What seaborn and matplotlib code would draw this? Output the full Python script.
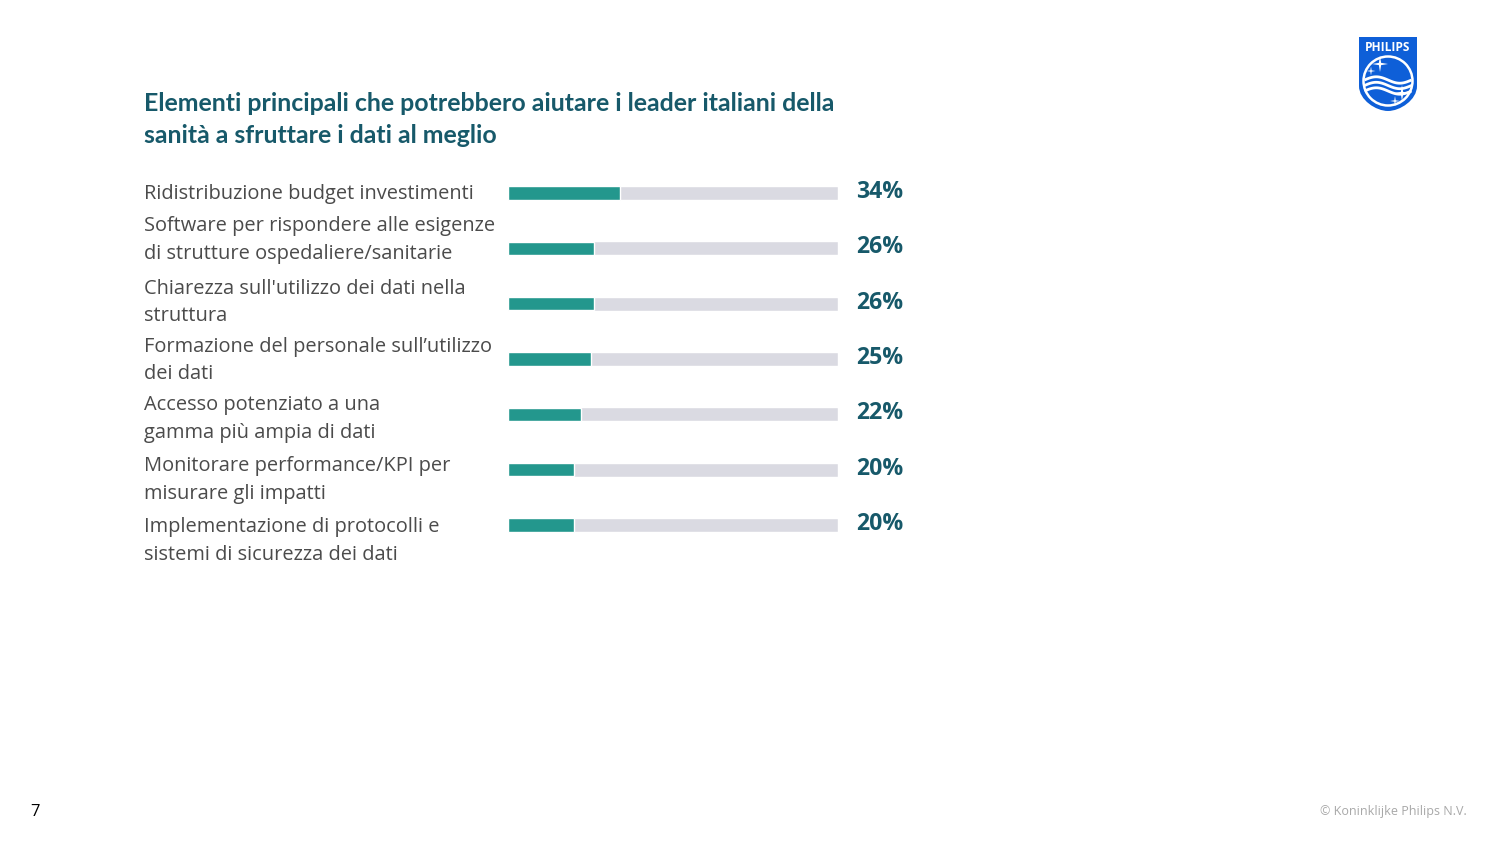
import matplotlib
matplotlib.use("Agg")
import matplotlib.pyplot as plt
import seaborn as sns
import pandas as pd
import numpy as np
from matplotlib.path import Path
from matplotlib.patches import PathPatch, Circle, Polygon

categories = [
    "Ridistribuzione budget investimenti",
    "Software per rispondere alle esigenze\ndi strutture ospedaliere/sanitarie",
    "Chiarezza sull'utilizzo dei dati nella\nstruttura",
    "Formazione del personale sull\u2019utilizzo\ndei dati",
    "Accesso potenziato a una\ngamma pi\u00f9 ampia di dati",
    "Monitorare performance/KPI per\nmisurare gli impatti",
    "Implementazione di protocolli e\nsistemi di sicurezza dei dati",
]
values = [34, 26, 26, 25, 22, 20, 20]
track = [100] * len(values)
value_labels = ["34%", "26%", "26%", "25%", "22%", "20%", "20%"]
title = "Elementi principali che potrebbero aiutare i leader italiani della\nsanit\u00e0 a sfruttare i dati al meglio"

TEAL = "#23978D"
TRACK = "#DADAE2"
DARK = "#17596A"
GRAY_TXT = "#4B4B4B"

sns.set_theme(style="white")
plt.rcParams["font.family"] = ["Open Sans", "DejaVu Sans"]

W, H = 1500, 844
fig = plt.figure(figsize=(15, 8.44), dpi=100)
fig.patch.set_facecolor("white")

def fx(px):
    return px / W

def fy(py):
    return 1 - py / H

# bar axes: x 508..838 px, bar centers 193..525 px
n = len(values)
step = (525 - 193) / (n - 1)
top = 193 - step / 2
bottom = 525 + step / 2
ax = fig.add_axes([fx(508), fy(bottom), fx(838) - fx(508), (bottom - top) / H])

df = pd.DataFrame({"cat": categories, "val": values, "track": track})
sns.barplot(data=df, y="cat", x="track", color=TRACK, orient="h", width=0.255,
            saturation=1, ax=ax)
sns.barplot(data=df, y="cat", x="val", color=TEAL, orient="h", width=0.235,
            saturation=1, ax=ax)
ax.set_xlim(0, 100)
ax.set_ylim(n - 0.5, -0.5)
ax.axis("off")

# value labels
for i, lab in enumerate(value_labels):
    ax.text(105.4, i - 0.02, lab, ha="left", va="center", fontsize=16.6,
            fontweight="bold", color=DARK, clip_on=False)

# category labels (first-line baselines in px)
first_baselines = [199.5, 231.5, 293.5, 351.5, 410, 471, 532]
line_gap = 27.8
for lab, b in zip(categories, first_baselines):
    for k, line in enumerate(lab.split("\n")):
        fig.text(fx(144), fy(b + k * line_gap), line, ha="left", va="baseline",
                 fontsize=14.4, color=GRAY_TXT)

# title
for k, line in enumerate(title.split("\n")):
    fig.text(fx(144), fy(111 + k * 32), line, ha="left", va="baseline",
             fontsize=17.9, fontweight="bold", color=DARK,
             family=["Lato", "DejaVu Sans"])

# footer
fig.text(fx(30), fy(816), "7", ha="left", va="baseline", fontsize=12, color="black")
fig.text(fx(1467), fy(815), "\u00a9 Koninklijke Philips N.V.", ha="right",
         va="baseline", fontsize=9, color="#A8A8A8")

# Philips shield logo
lax = fig.add_axes([fx(1350), fy(120), fx(80), 90 / H])
lax.set_xlim(1350, 1430)
lax.set_ylim(120, 30)
lax.axis("off")
blue = "#0E5FD8"
verts = [(1359, 37), (1417, 37), (1417, 86), (1417, 100), (1400, 111), (1388, 111),
         (1376, 111), (1359, 100), (1359, 86), (1359, 37)]
codes = [Path.MOVETO, Path.LINETO, Path.LINETO, Path.CURVE4, Path.CURVE4, Path.CURVE4,
         Path.CURVE4, Path.CURVE4, Path.CURVE4, Path.CLOSEPOLY]
lax.add_patch(PathPatch(Path(verts, codes), facecolor=blue, edgecolor="none"))
lax.text(1388, 47.5, "PHILIPS", ha="center", va="center", fontsize=8.6,
         fontweight="bold", color="white", family=["Open Sans", "DejaVu Sans"])
lax.add_patch(Circle((1388, 81), 24.5, facecolor="none", edgecolor="white", lw=1.8))
xs = np.linspace(1364.5, 1411.5, 60)
for off, lw in [(-2, 2.0), (3.5, 2.0), (9, 2.0)]:
    ys = 82 + off - 3.2 * np.sin((xs - 1364.5) / 47 * 2 * np.pi)
    lax.plot(xs, ys, color="white", lw=lw, solid_capstyle="butt")

def star(cx, cy, r, ax_):
    pts = []
    for j in range(8):
        ang = j * np.pi / 4
        rr = r if j % 2 == 0 else r * 0.2
        pts.append((cx + rr * np.cos(ang), cy + rr * np.sin(ang)))
    ax_.add_patch(Polygon(pts, closed=True, facecolor="white", edgecolor="none"))

star(1380, 64, 8, lax)
star(1371, 71, 4.5, lax)
star(1402, 93, 8, lax)
star(1395, 101, 5, lax)

fig.savefig("out.png", dpi=100, facecolor="white")
